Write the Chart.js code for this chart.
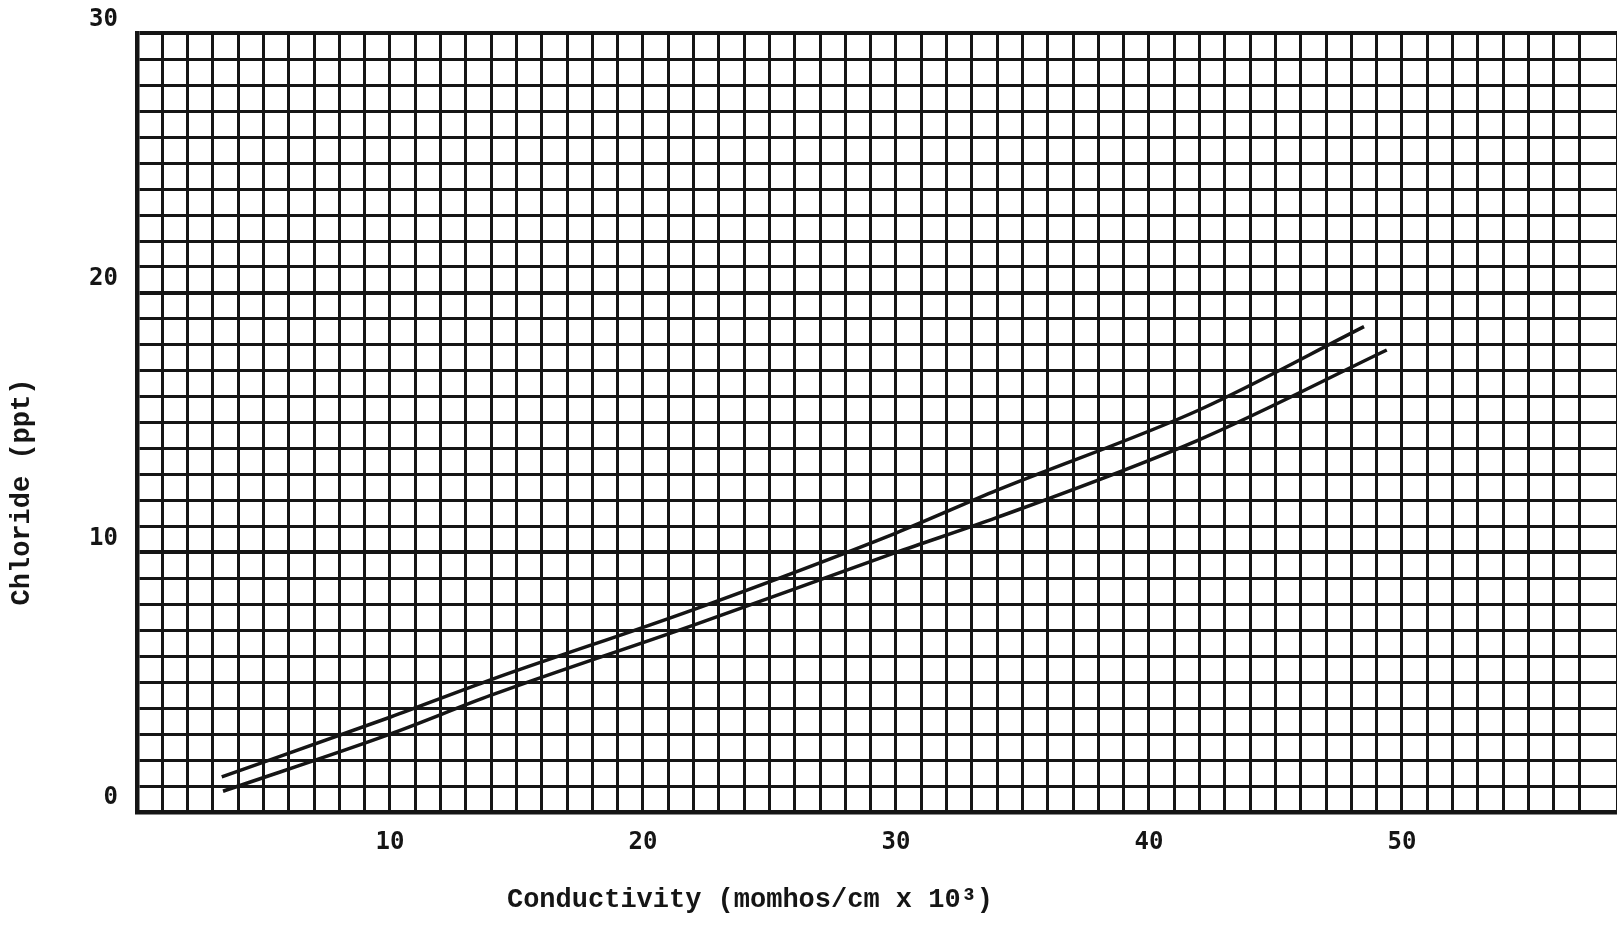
<!DOCTYPE html>
<html lang="en">
<head>
  <meta charset="UTF-8" />
  <title>Chloride vs Conductivity</title>
  <script src="https://cdn.jsdelivr.net/npm/chart.js@4.4.1/dist/chart.umd.min.js"></script>
  <style>
    html, body { margin: 0; padding: 0; background: #fff; overflow: hidden; }
    .chart-wrap { position: relative; width: 1617px; height: 927px; }
  </style>
</head>
<body>
  <div class="chart-wrap"><canvas id="chart"></canvas></div>

  <script>
    // values
    const upperX = [3.35, 10, 14, 22, 30, 34, 42, 48.5];
    const upperY = [1.35, 3.65, 5.1, 7.8, 10.75, 12.4, 15.5, 18.7];
    const lowerX = [3.4, 10, 14, 22, 30, 34, 42, 49.4];
    const lowerY = [0.8, 3.0, 4.5, 7.2, 10.0, 11.35, 14.35, 17.8];

    const xTickLabels = [10, 20, 30, 40, 50];
    const yTickLabels = [0, 10, 20, 30];

    const xTitle = 'Conductivity (momhos/cm x 10\u00B3)';
    const yTitle = 'Chloride (ppt)';

    const ink = '#151515';
    const tickFont = { family: '"DejaVu Sans Mono", monospace', size: 24, weight: 'bold' };

    const toPoints = (xs, ys) => xs.map((x, i) => ({ x: x, y: ys[i] }));

    // axis titles sit off-centre in the original, so draw them ourselves
    const axisTitles = {
      id: 'axisTitles',
      afterDraw(chart) {
        const c = chart.ctx;
        c.save();
        c.fillStyle = ink;
        c.font = 'bold 27px "Liberation Mono", monospace';
        c.textAlign = 'center';
        c.textBaseline = 'middle';
        c.fillText(xTitle, 750, 900);
        c.translate(22, 492);
        c.rotate(-Math.PI / 2);
        c.fillText(yTitle, 0, 0);
        c.restore();
      }
    };

    const lineStyle = {
      showLine: true,
      borderColor: ink,
      borderWidth: 3.5,
      pointRadius: 0,
      cubicInterpolationMode: 'monotone'
    };

    new Chart(document.getElementById('chart'), {
      type: 'scatter',
      data: {
        datasets: [
          Object.assign({ label: 'upper', data: toPoints(upperX, upperY) }, lineStyle),
          Object.assign({ label: 'lower', data: toPoints(lowerX, lowerY) }, lineStyle)
        ]
      },
      options: {
        responsive: true,
        maintainAspectRatio: false,
        animation: false,
        layout: { padding: { top: 30, right: 0, left: 0, bottom: 0 } },
        plugins: {
          legend: { display: false },
          tooltip: { enabled: false }
        },
        scales: {
          x: {
            type: 'linear',
            min: 0,
            max: 58.5,
            afterFit(scale) {
              scale.height = 115;
              // grid paper runs off the right edge, no room kept for labels
              scale.paddingRight = 0;
            },
            border: { color: ink, width: 4.5 },
            grid: {
              color: ink,
              lineWidth: 3,
              drawTicks: false
            },
            ticks: {
              stepSize: 1,
              autoSkip: false,
              maxRotation: 0,
              padding: 16,
              color: ink,
              font: tickFont,
              callback: (v) => xTickLabels.includes(v) ? String(v) : ''
            }
          },
          y: {
            type: 'linear',
            min: 0,
            max: 30,
            afterFit(scale) { scale.width = 137; },
            border: { color: ink, width: 4.5 },
            grid: {
              color: ink,
              lineWidth: (ctx) => ctx.tick && ctx.tick.value % 10 === 0 ? 4 : 3,
              drawTicks: false
            },
            ticks: {
              stepSize: 1,
              autoSkip: false,
              padding: 19,
              labelOffset: -14,
              color: ink,
              font: tickFont,
              callback: (v) => yTickLabels.includes(v) ? String(v) : ''
            }
          }
        }
      },
      plugins: [axisTitles]
    });
  </script>
</body>
</html>
